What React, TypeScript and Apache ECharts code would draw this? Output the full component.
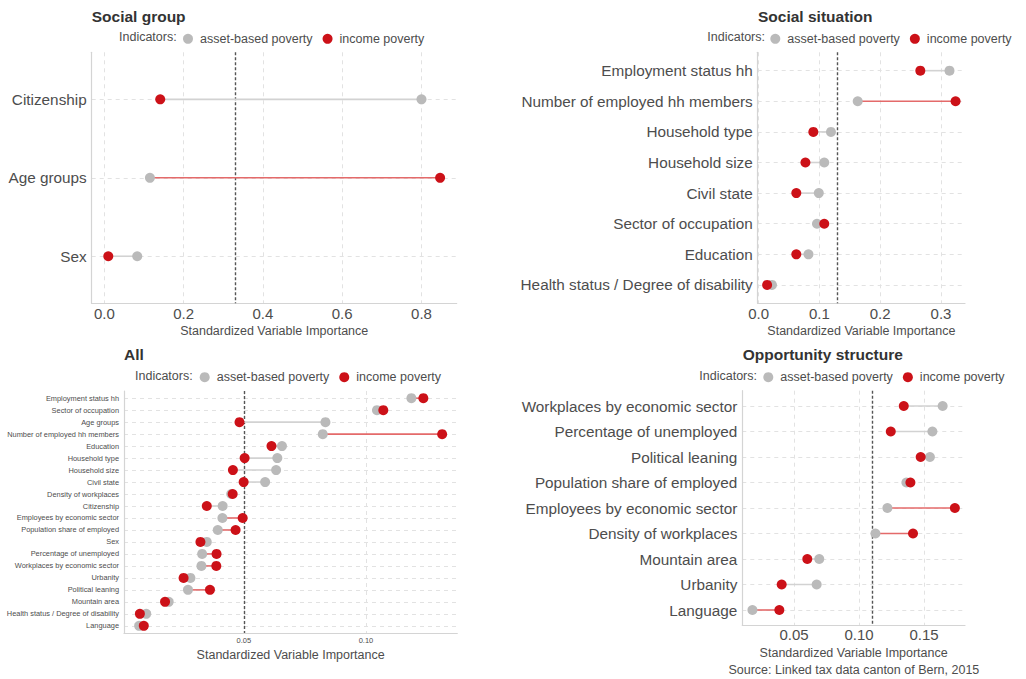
import React, { useEffect, useRef } from 'react';
import * as echarts from 'echarts';

const FONT = '"Liberation Sans", Arial, Helvetica, sans-serif';

// ---- Data ----
const groupCats = ['Citizenship', 'Age groups', 'Sex'];
const groupAsset = [0.8, 0.115, 0.083];
const groupIncome = [0.141, 0.847, 0.01];
const groupMean = 0.333;

const situationCats = [
  'Employment status hh',
  'Number of employed hh members',
  'Household type',
  'Household size',
  'Civil state',
  'Sector of occupation',
  'Education',
  'Health status / Degree of disability',
];
const situationAsset = [0.314, 0.163, 0.119, 0.108, 0.099, 0.096, 0.082, 0.022];
const situationIncome = [0.266, 0.324, 0.09, 0.077, 0.062, 0.108, 0.062, 0.014];
const situationMean = 0.125;

const allCats = [
  'Employment status hh',
  'Sector of occupation',
  'Age groups',
  'Number of employed hh members',
  'Education',
  'Household type',
  'Household size',
  'Civil state',
  'Density of workplaces',
  'Citizenship',
  'Employees by economic sector',
  'Population share of employed',
  'Sex',
  'Percentage of unemployed',
  'Workplaces by economic sector',
  'Urbanity',
  'Political leaning',
  'Mountain area',
  'Health status / Degree of disability',
  'Language',
];
const allAsset = [0.1186, 0.1045, 0.0834, 0.0823, 0.0656, 0.0637, 0.0632, 0.0587, 0.0448, 0.0413, 0.0412, 0.0393, 0.0348, 0.0329, 0.0326, 0.0281, 0.0271, 0.0192, 0.01, 0.0071];
const allIncome = [0.1235, 0.1071, 0.0482, 0.1312, 0.0613, 0.0503, 0.0455, 0.0499, 0.0454, 0.0348, 0.0495, 0.0466, 0.0322, 0.0388, 0.0387, 0.0253, 0.0361, 0.0177, 0.0074, 0.009];
const allMean = 0.05;

const oppCats = [
  'Workplaces by economic sector',
  'Percentage of unemployed',
  'Political leaning',
  'Population share of employed',
  'Employees by economic sector',
  'Density of workplaces',
  'Mountain area',
  'Urbanity',
  'Language',
];
const oppAsset = [0.1643, 0.1564, 0.1545, 0.1364, 0.1218, 0.1126, 0.0694, 0.0674, 0.018];
const oppIncome = [0.1344, 0.1244, 0.1474, 0.1395, 0.1737, 0.1415, 0.0602, 0.0405, 0.0387];
const oppMean = 0.111;

const xTickSteps = [0.2, 0.1, 0.05, 0.05];
const xTickDecimals = [1, 1, 2, 2];

const ASSET_NAME = 'asset-based poverty';
const INCOME_NAME = 'income poverty';
const AXIS_TITLE = 'Standardized Variable Importance';
const SOURCE = 'Source: Linked tax data canton of Bern, 2015';

// ---- Layout ----
const panels = [
  {
    title: 'Social group', cats: groupCats, asset: groupAsset, income: groupIncome, mean: groupMean,
    grid: { left: 91.7, top: 52.3, width: 365, height: 251 },
    catFont: 15.3, tickFont: 15, tickMargin: 3, nameGap: 21,
    titlePos: { left: 91.7, top: 8 }, indX: 119, legendLeft: 183, legendY: 37.3,
  },
  {
    title: 'Social situation', cats: situationCats, asset: situationAsset, income: situationIncome, mean: situationMean,
    grid: { left: 757.7, top: 52.3, width: 207.3, height: 251 },
    catFont: 15.3, tickFont: 15, tickMargin: 3, nameGap: 21,
    titlePos: { left: 758, top: 8 }, indX: 707.3, legendLeft: 770.3, legendY: 37.3,
  },
  {
    title: 'All', cats: allCats, asset: allAsset, income: allIncome, mean: allMean,
    grid: { left: 124, top: 391, width: 333.3, height: 242 },
    catFont: 7.4, tickFont: 7.5, tickMargin: 3, nameGap: 15,
    titlePos: { left: 124, top: 346 }, indX: 135, legendLeft: 199.7, legendY: 375.7,
  },
  {
    title: 'Opportunity structure', cats: oppCats, asset: oppAsset, income: oppIncome, mean: oppMean,
    grid: { left: 742.3, top: 390.7, width: 222.7, height: 234.6 },
    catFont: 15.3, tickFont: 15, tickMargin: 2, nameGap: 21,
    titlePos: { left: 742.7, top: 346 }, indX: 699.3, legendLeft: 763.3, legendY: 375.7,
  },
];

const TEXT = '#4d4d4d';
const GRID_LINE = '#e2e2e2';
const AXIS_LINE = '#d4d4d4';
const ASSET_COLOR = '#bababa';
const INCOME_COLOR = '#cc1118';
const SEG_GRAY = '#d2d2d2';
const SEG_RED = '#e46a6a';

function isMultiple(v: number, step: number) {
  const r = v / step;
  return Math.abs(r - Math.round(r)) < 1e-6;
}

function App() {
  const ref = useRef<HTMLDivElement>(null);

  useEffect(() => {
    const chart = echarts.init(ref.current!, null, { renderer: 'svg' });

    const grids: any[] = [];
    const xAxes: any[] = [];
    const yAxes: any[] = [];
    const series: any[] = [];
    const legends: any[] = [];
    const titles: any[] = [];
    const graphics: any[] = [];

    panels.forEach((p, i) => {
      const vals = p.asset.concat(p.income);
      const dMin = Math.min(...vals);
      const dMax = Math.max(...vals);
      const pad = (dMax - dMin) * 0.05;
      const step = xTickSteps[i];
      const dec = xTickDecimals[i];
      const n = p.cats.length;

      grids.push({ ...p.grid, containLabel: false });

      xAxes.push({
        gridIndex: i,
        type: 'value',
        position: 'bottom',
        min: dMin - pad,
        max: dMax + pad,
        minInterval: step,
        maxInterval: step,
        splitNumber: 5,
        axisLine: { show: true, onZero: false, lineStyle: { color: AXIS_LINE, width: 1.2 } },
        axisTick: { show: false },
        axisLabel: {
          showMinLabel: false,
          showMaxLabel: false,
          margin: p.tickMargin,
          fontSize: p.tickFont,
          color: TEXT,
          fontFamily: FONT,
          formatter: (v: number) => (isMultiple(v, step) ? v.toFixed(dec) : ''),
        },
        splitLine: {
          show: true,
          showMinLine: false,
          showMaxLine: false,
          lineStyle: { color: GRID_LINE, type: [4, 4], width: 1 },
        },
        name: AXIS_TITLE,
        nameLocation: 'middle',
        nameGap: p.nameGap,
        nameTextStyle: { fontSize: 12.5, color: TEXT, fontFamily: FONT },
      });

      yAxes.push({
        gridIndex: i,
        type: 'value',
        position: 'left',
        inverse: true,
        min: -0.6,
        max: n - 1 + 0.6,
        minInterval: 1,
        maxInterval: 1,
        splitNumber: n,
        axisLine: { show: true, onZero: false, lineStyle: { color: AXIS_LINE, width: 1.2 } },
        axisTick: { show: false },
        axisLabel: {
          showMinLabel: false,
          showMaxLabel: false,
          margin: 5,
          fontSize: p.catFont,
          color: TEXT,
          fontFamily: FONT,
          formatter: (v: number) => (isMultiple(v, 1) && p.cats[Math.round(v)] ? p.cats[Math.round(v)] : ''),
        },
        splitLine: {
          show: true,
          showMinLine: false,
          showMaxLine: false,
          lineStyle: { color: GRID_LINE, type: [4, 4], width: 1 },
        },
      });

      series.push({
        type: 'custom',
        xAxisIndex: i,
        yAxisIndex: i,
        silent: true,
        z: 2,
        data: p.cats.map((_, j) => [p.asset[j], p.income[j], j]),
        encode: { x: [0, 1], y: 2 },
        renderItem: (params: any, api: any) => {
          const a = api.coord([api.value(0), api.value(2)]);
          const b = api.coord([api.value(1), api.value(2)]);
          const red = api.value(1) > api.value(0);
          return {
            type: 'line',
            shape: { x1: a[0], y1: a[1], x2: b[0], y2: b[1] },
            style: { stroke: red ? SEG_RED : SEG_GRAY, lineWidth: 1.6 },
          };
        },
      });

      series.push({
        type: 'scatter',
        name: ASSET_NAME,
        xAxisIndex: i,
        yAxisIndex: i,
        z: 3,
        symbolSize: 10,
        itemStyle: { color: ASSET_COLOR, opacity: 1 },
        data: p.asset.map((v, j) => [v, j]),
        markLine: {
          silent: true,
          symbol: 'none',
          label: { show: false },
          lineStyle: { color: '#555555', type: [3, 2], width: 1.4 },
          data: [{ xAxis: p.mean }],
          z: 2,
        },
      });

      series.push({
        type: 'scatter',
        name: INCOME_NAME,
        xAxisIndex: i,
        yAxisIndex: i,
        z: 4,
        symbolSize: 10,
        itemStyle: { color: INCOME_COLOR, opacity: 1 },
        data: p.income.map((v, j) => [v, j]),
      });

      legends.push({
        left: p.legendLeft,
        top: p.legendY - 5,
        padding: 0,
        itemWidth: 14,
        itemHeight: 10,
        itemGap: 10,
        selectedMode: false,
        icon: 'circle',
        textStyle: { fontSize: 12.5, color: TEXT, fontFamily: FONT },
        data: [ASSET_NAME, INCOME_NAME],
      });

      titles.push({
        text: p.title,
        left: p.titlePos.left,
        top: p.titlePos.top,
        padding: 0,
        textStyle: { fontSize: 15.5, fontWeight: 'bold', color: '#333333', fontFamily: FONT },
      });

      graphics.push({
        type: 'text',
        x: p.indX,
        y: p.legendY,
        style: {
          text: 'Indicators:',
          fontSize: 12.5,
          fill: TEXT,
          fontFamily: FONT,
          textAlign: 'left',
          textVerticalAlign: 'middle',
        },
      });
    });

    graphics.push({
      type: 'text',
      x: 979.3,
      y: 670,
      style: {
        text: SOURCE,
        fontSize: 12.5,
        fill: TEXT,
        fontFamily: FONT,
        textAlign: 'right',
        textVerticalAlign: 'middle',
      },
    });

    chart.setOption({
      animation: false,
      backgroundColor: '#ffffff',
      title: titles,
      legend: legends,
      grid: grids,
      xAxis: xAxes,
      yAxis: yAxes,
      series,
      graphic: graphics,
    });

    return () => chart.dispose();
  }, []);

  return (
    <div
      ref={ref}
      style={{ position: 'absolute', left: 0, top: 0, width: 1026, height: 679 }}
    />
  );
}

export default App;
